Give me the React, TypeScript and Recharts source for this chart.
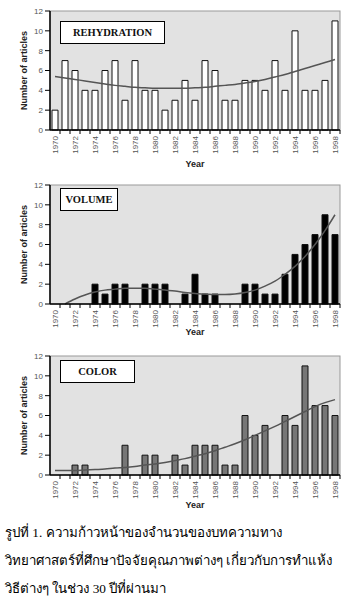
import { ComposedChart, Bar, Line, XAxis, YAxis, Label } from "recharts"

const YEARS = [
  "1970", "1971", "1972", "1973", "1974", "1975", "1976", "1977", "1978", "1979",
  "1980", "1981", "1982", "1983", "1984", "1985", "1986", "1987", "1988", "1989",
  "1990", "1991", "1992", "1993", "1994", "1995", "1996", "1997", "1998",
]

const Y_TICKS = [0, 2, 4, 6, 8, 10, 12]

// articles per year
const REHYDRATION = [2, 7, 6, 4, 4, 6, 7, 3, 7, 4, 4, 2, 3, 5, 3, 7, 6, 3, 3, 5, 5, 4, 7, 4, 10, 4, 4, 5, 11]
const VOLUME = [0, 0, 0, 0, 2, 1, 2, 2, 0, 2, 2, 2, 0, 1, 3, 1, 1, 0, 0, 2, 2, 1, 1, 3, 5, 6, 7, 9, 7]
const COLOR = [0, 0, 1, 1, 0, 0, 0, 3, 0, 2, 2, 0, 2, 1, 3, 3, 3, 1, 1, 6, 4, 5, 0, 6, 5, 11, 7, 7, 6]

// trend curves
const REHYDRATION_TREND = [5.4, 5.25, 5.1, 4.95, 4.8, 4.65, 4.5, 4.4, 4.3, 4.25, 4.2, 4.2, 4.2, 4.2, 4.25, 4.3, 4.4, 4.5, 4.6, 4.75, 4.9, 5.1, 5.35, 5.6, 5.9, 6.2, 6.5, 6.8, 7.1]
const VOLUME_TREND = [null, 0, 0.5, 0.9, 1.2, 1.4, 1.5, 1.6, 1.6, 1.6, 1.5, 1.4, 1.3, 1.15, 1.05, 1.0, 0.95, 0.95, 1.0, 1.15, 1.4, 1.8, 2.3, 3.0, 3.8, 4.8, 6.0, 7.4, 9.0]
const COLOR_TREND = [0.45, 0.45, 0.45, 0.5, 0.55, 0.6, 0.7, 0.75, 0.85, 1.0, 1.1, 1.25, 1.45, 1.65, 1.9, 2.15, 2.45, 2.8, 3.15, 3.55, 4.0, 4.45, 4.9, 5.4, 5.9, 6.4, 6.9, 7.3, 7.6]

const CAPTION = [
  "รูปที่ 1. ความก้าวหน้าของจำนวนของบทความทาง",
  "วิทยาศาสตร์ที่ศึกษาปัจจัยคุณภาพต่างๆ เกี่ยวกับการทำแห้ง",
  "วิธีต่างๆ ในช่วง 30 ปีที่ผ่านมา",
]

const W = 347
const H = 170
const LEFT = 50
const RIGHT = 7
const HALF_BAND = (W - LEFT - RIGHT) / YEARS.length / 2

function YearTick(props: any) {
  const { x, y, payload } = props
  const even = Number(payload.value) % 2 === 0
  return (
    <g>
      <line x1={x + HALF_BAND} y1={y} x2={x + HALF_BAND} y2={y + 4} stroke="#000" strokeWidth={1} />
      {even && (
        <text
          x={x}
          y={y + 6}
          dy="0.35em"
          transform={`rotate(-90 ${x} ${y + 6})`}
          textAnchor="end"
          fontSize={8}
          fill="#555"
          fontFamily="Arial, 'Liberation Sans', sans-serif"
        >
          {payload.value}
        </text>
      )}
    </g>
  )
}

interface PanelProps {
  top: number
  title: string
  boxWidth: number
  boxTop: number
  counts: number[]
  trend: (number | null)[]
  fill: string
  yearOffset: number
}

function Panel({ top, title, boxWidth, boxTop, counts, trend, fill, yearOffset }: PanelProps) {
  const data = YEARS.map((year, i) => ({ year, count: counts[i], trend: trend[i] }))
  return (
    <div style={{ position: "absolute", left: 0, top, width: W, height: H }}>
      <ComposedChart
        width={W}
        height={H}
        data={data}
        margin={{ top: 11, right: RIGHT, bottom: 0, left: 0 }}
        barCategoryGap={0}
      >
        <rect x={LEFT} y={11} width={W - LEFT - RIGHT} height={119} fill="#e2e2e2" stroke="#999" />
        <XAxis
          dataKey="year"
          interval={0}
          height={40}
          tickSize={0}
          tickMargin={0}
          tick={<YearTick />}
          axisLine={{ stroke: "#000", strokeWidth: 1.5 }}
        >
          <Label
            value="Year"
            position="insideBottom"
            offset={yearOffset}
            style={{ fontSize: 9, fontWeight: "bold", fill: "#222", fontFamily: "Arial, sans-serif" }}
          />
        </XAxis>
        <YAxis
          domain={[0, 12]}
          ticks={Y_TICKS}
          width={LEFT}
          tickSize={5}
          tickMargin={2}
          interval={0}
          axisLine={{ stroke: "#000", strokeWidth: 1.5 }}
          tickLine={{ stroke: "#000" }}
          tick={{ fontSize: 8, fill: "#555", fontFamily: "Arial, sans-serif" }}
        >
          <Label
            value="Number of articles"
            angle={-90}
            position="center"
            dx={-1}
            style={{ fontSize: 9, fontWeight: "bold", fill: "#222", fontFamily: "Arial, sans-serif", textAnchor: "middle" }}
          />
        </YAxis>
        <Bar dataKey="count" barSize={6} fill={fill} stroke="#111" strokeWidth={1} isAnimationActive={false} />
        <Line
          dataKey="trend"
          type="monotone"
          stroke="#555"
          strokeWidth={1.5}
          dot={false}
          connectNulls
          isAnimationActive={false}
        />
      </ComposedChart>
      <div
        style={{
          position: "absolute",
          left: 60,
          top: boxTop,
          width: boxWidth,
          height: 23,
          boxSizing: "border-box",
          border: "1px solid #000",
          background: "#fff",
          display: "flex",
          alignItems: "center",
          justifyContent: "center",
          fontFamily: "'Liberation Serif', 'Times New Roman', serif",
          fontWeight: "bold",
          fontSize: 10.5,
          color: "#111",
        }}
      >
        {title}
      </div>
    </div>
  )
}

export default function App() {
  return (
    <div style={{ position: "absolute", left: 0, top: 0, width: W, height: 598, background: "#fff" }}>
      <Panel top={0} title="REHYDRATION" boxWidth={105} boxTop={21} counts={REHYDRATION} trend={REHYDRATION_TREND} fill="#fff" yearOffset={3} />
      <Panel top={174} title="VOLUME" boxWidth={58} boxTop={14} counts={VOLUME} trend={VOLUME_TREND} fill="#000" yearOffset={9} />
      <Panel top={345} title="COLOR" boxWidth={75} boxTop={15} counts={COLOR} trend={COLOR_TREND} fill="#777" yearOffset={7} />
      <div
        style={{
          position: "absolute",
          left: 5,
          top: 519,
          width: 342,
          fontFamily: "serif",
          fontSize: 13.3,
          lineHeight: "28px",
          color: "#000",
          whiteSpace: "nowrap",
        }}
      >
        {CAPTION.map((line) => (
          <div key={line}>{line}</div>
        ))}
      </div>
    </div>
  )
}
